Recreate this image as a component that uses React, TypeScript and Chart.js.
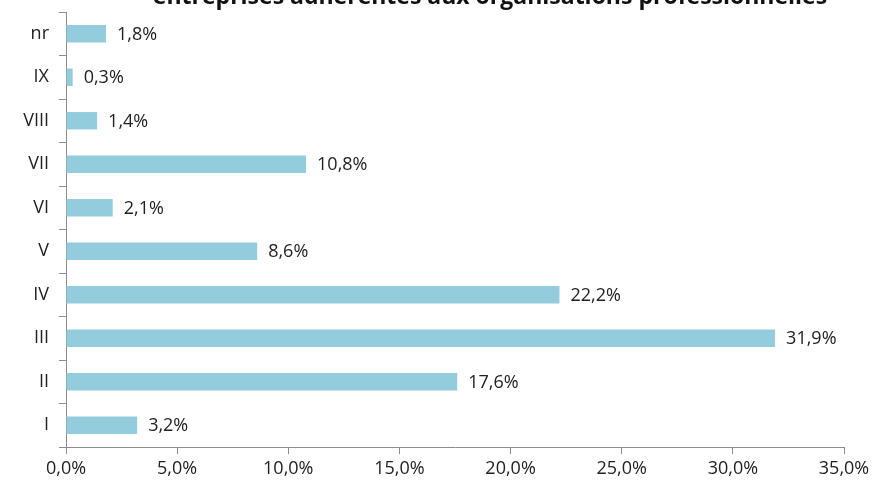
import React, { useEffect, useRef } from "react";
import { Chart, registerables } from "chart.js";

Chart.register(...registerables);

const categories = ["nr", "IX", "VIII", "VII", "VI", "V", "IV", "III", "II", "I"];
const values = [1.8, 0.3, 1.4, 10.8, 2.1, 8.6, 22.2, 31.9, 17.6, 3.2];
const titleText = "entreprises adhérentes aux organisations professionnelles";
const xMax = 35;
const xStep = 5;

const FONT = "'Open Sans', 'DejaVu Sans', sans-serif";
const fmt = (v: number) => v.toFixed(1).replace(".", ",") + "%";

const labelPlugin = {
  id: "barLabels",
  afterDatasetsDraw(chart: any) {
    const ctx = chart.ctx;
    const meta = chart.getDatasetMeta(0);
    ctx.save();
    ctx.font = `18px ${FONT}`;
    ctx.fillStyle = "#222";
    ctx.textAlign = "left";
    ctx.textBaseline = "middle";
    meta.data.forEach((bar: any, i: number) => {
      ctx.fillText(fmt(values[i]), bar.x + 11, bar.y + 1);
    });
    ctx.restore();
  },
};

const titlePlugin = {
  id: "clippedTitle",
  afterDraw(chart: any) {
    const ctx = chart.ctx;
    ctx.save();
    ctx.font = `bold 23px ${FONT}`;
    ctx.fillStyle = "#111";
    ctx.textAlign = "center";
    ctx.textBaseline = "bottom";
    ctx.fillText(titleText, 490, 9);
    ctx.restore();
  },
};

export default function App() {
  const ref = useRef<HTMLCanvasElement | null>(null);
  useEffect(() => {
    if (!ref.current) return;
    const chart = new Chart(ref.current, {
      type: "bar",
      data: {
        labels: categories,
        datasets: [
          {
            data: values,
            backgroundColor: "#93CDDD",
            borderWidth: 0,
            barPercentage: 0.4,
            categoryPercentage: 1,
          },
        ],
      },
      options: {
        indexAxis: "y",
        animation: false,
        responsive: false,
        maintainAspectRatio: false,
        layout: { padding: { top: 12, right: 28, left: 0, bottom: 0 } },
        plugins: { legend: { display: false }, tooltip: { enabled: false }, title: { display: false } },
        scales: {
          x: {
            min: 0,
            max: xMax,
            ticks: {
              stepSize: xStep,
              callback: (v: any) => fmt(Number(v)),
              color: "#222",
              font: { family: FONT, size: 18 },
              padding: 4,
              maxRotation: 0,
            },
            grid: { drawOnChartArea: false, drawTicks: true, tickLength: 7, color: "#8c8c8c" },
            border: { display: true, color: "#8c8c8c", width: 1 },
            afterFit: (s: any) => { s.height = 43; s.paddingLeft = 0; s.paddingRight = 0; },
          },
          y: {
            ticks: {
              color: "#222",
              font: { family: FONT, size: 18 },
              padding: 10,
            },
            grid: { drawOnChartArea: false, drawTicks: true, tickLength: 7, color: "#8c8c8c", offset: true },
            border: { display: true, color: "#8c8c8c", width: 1 },
            afterFit: (s: any) => { s.width = 66; s.paddingTop = 0; s.paddingBottom = 0; },
          },
        },
      },
      plugins: [labelPlugin, titlePlugin],
    });
    return () => chart.destroy();
  }, []);
  return (
    <div style={{ position: "fixed", left: 0, top: 0, width: 872, height: 490, background: "#fff" }}>
      <canvas ref={ref} width={872} height={490} style={{ width: 872, height: 490 }} />
    </div>
  );
}
